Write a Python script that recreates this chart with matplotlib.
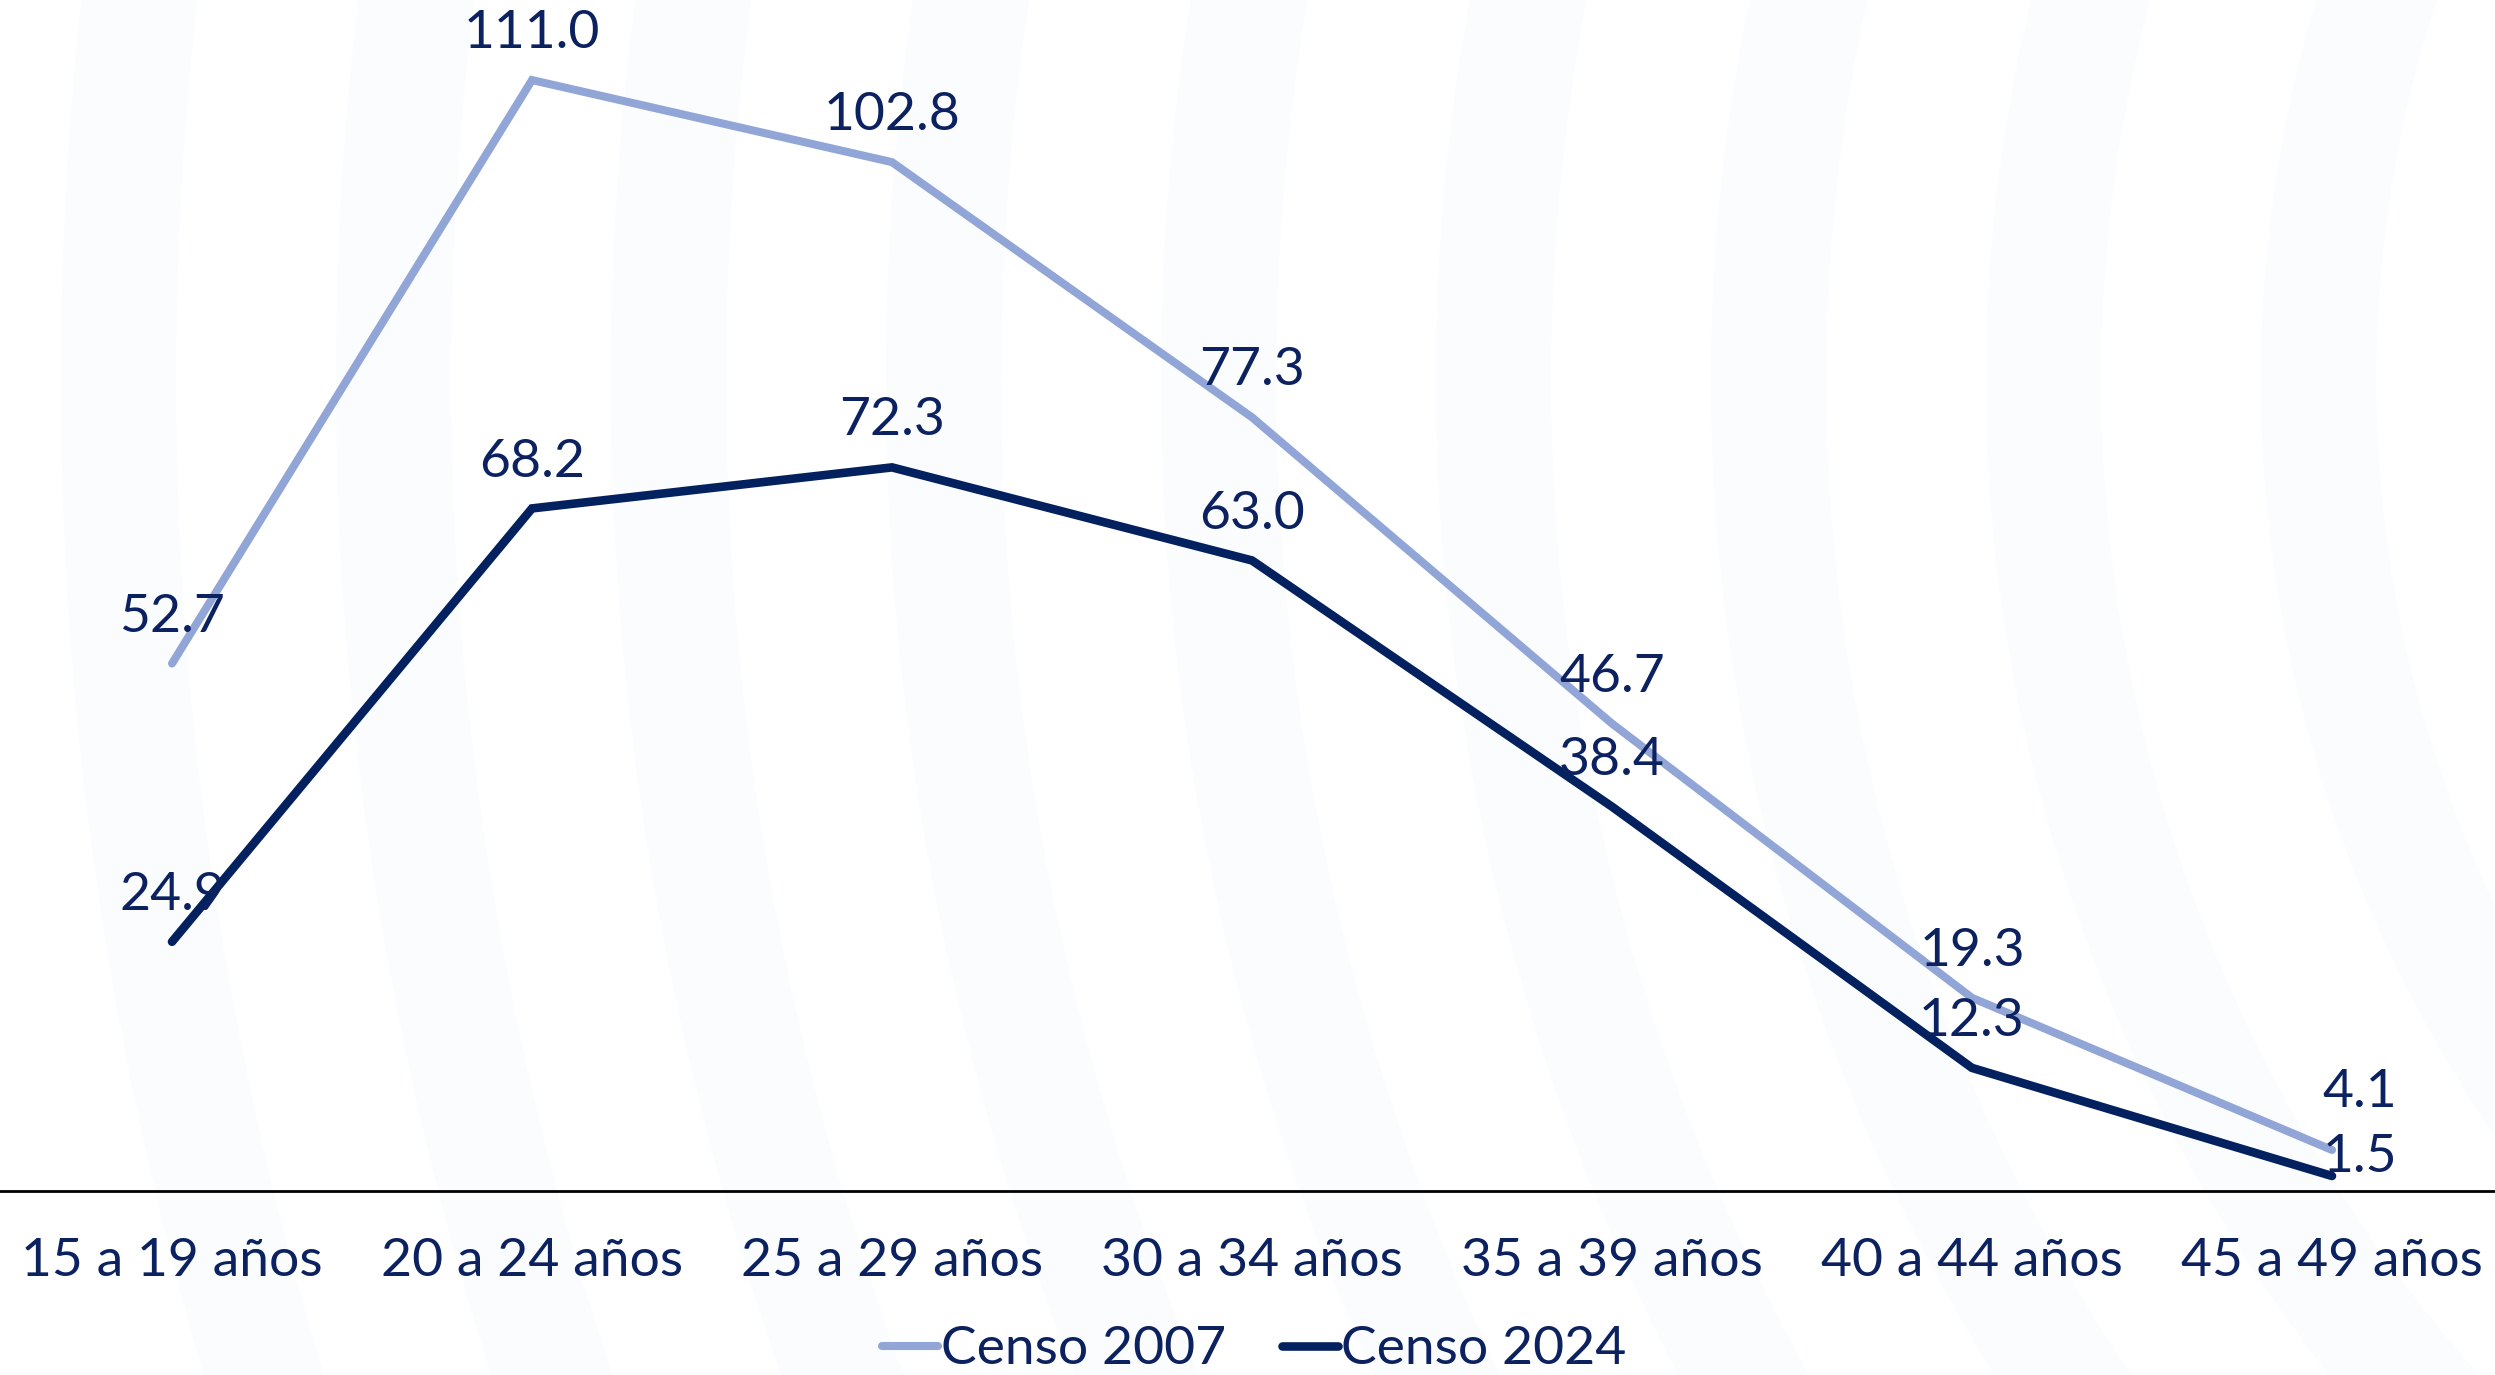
import matplotlib
matplotlib.use("Agg")
import matplotlib.pyplot as plt
from matplotlib.patches import Wedge
from matplotlib.lines import Line2D

categories = ["15 a 19 años", "20 a 24 años", "25 a 29 años", "30 a 34 años",
              "35 a 39 años", "40 a 44 años", "45 a 49 años"]
censo_2007 = [52.7, 111.0, 102.8, 77.3, 46.7, 19.3, 4.1]
censo_2024 = [24.9, 68.2, 72.3, 63.0, 38.4, 12.3, 1.5]
series_names = ["Censo 2007", "Censo 2024"]

LIGHT = "#91A6D6"
DARK = "#03215F"
TEXT = "#0B2160"
FONT = ["Lato", "DejaVu Sans"]
FS = 38.5

W, H = 2495, 1375
fig = plt.figure(figsize=(W / 100, H / 100), dpi=100)
fig.patch.set_facecolor("white")

# faint decorative background bands
bg = fig.add_axes([0, 0, 1, 1], zorder=0)
bg.set_xlim(0, W)
bg.set_ylim(H, 0)
bg.axis("off")
cx, cy = 3600, 380
for k in range(9):
    r_out = cx - (61 + 275 * k)
    bg.add_patch(Wedge((cx, cy), r_out, 130, 230, width=115,
                       facecolor="#FAFCFE", edgecolor="none"))

ax = fig.add_axes([-8 / W, 1 - 1191 / H, 2520 / W, 1191 / H], zorder=1)
ax.patch.set_alpha(0)
x = list(range(len(categories)))
ax.plot(x, censo_2007, color=LIGHT, lw=5.8, solid_capstyle="round",
        solid_joinstyle="miter", zorder=3)
ax.plot(x, censo_2024, color=DARK, lw=6.2, solid_capstyle="round",
        solid_joinstyle="miter", zorder=4)
ax.set_xlim(-0.5, 6.5)
ax.set_ylim(0, 119)

for s in ["top", "right", "left"]:
    ax.spines[s].set_visible(False)
ax.spines["bottom"].set_color("black")
ax.spines["bottom"].set_linewidth(2)
ax.set_yticks([])
ax.set_xticks(x)
ax.set_xticklabels(categories, fontsize=FS, color=TEXT, family=FONT)
ax.tick_params(axis="x", length=0, pad=34)

# value labels
extra_dx = {6: 20}
extra_dy = {("a", 6): 8, ("b", 6): -20}
for key, vals in (("a", censo_2007), ("b", censo_2024)):
    for i, v in enumerate(vals):
        ax.annotate(f"{v:.1f}", (i, v), xytext=(extra_dx.get(i, 0), 16.5 + extra_dy.get((key, i), 0)),
                    textcoords="offset points", ha="center", va="bottom",
                    fontsize=FS, color=TEXT, family=FONT, zorder=5)

handles = [Line2D([], [], color=LIGHT, lw=5.8, solid_capstyle="round"),
           Line2D([], [], color=DARK, lw=6.2, solid_capstyle="round")]
leg = fig.legend(handles, series_names, loc="center", bbox_to_anchor=(1254 / W, 1 - 1350 / H),
                 ncol=2, frameon=False, handlelength=1.05, handletextpad=0.05,
                 columnspacing=1.05, prop={"family": FONT, "size": FS}, borderpad=0)
for t in leg.get_texts():
    t.set_color(TEXT)

fig.savefig("out.png", dpi=100, facecolor="white")
